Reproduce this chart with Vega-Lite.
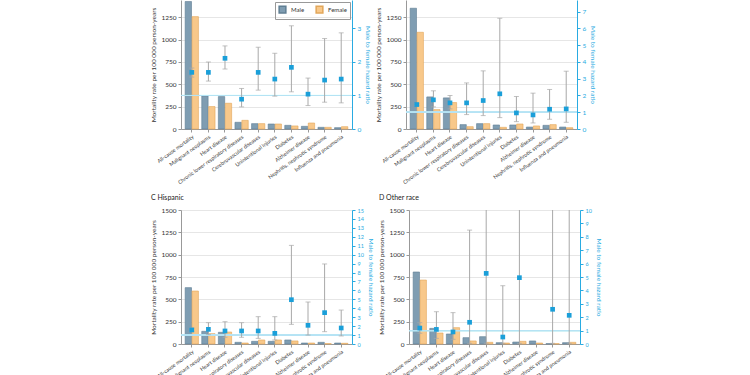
{
  "$schema": "https://vega.github.io/schema/vega-lite/v6.json",
  "background": "white",
  "padding": {"left": 150, "top": 0, "right": 5, "bottom": 0},
  "config": {
    "font": "Lato",
    "view": {"stroke": null},
    "axis": {"titleFontWeight": "normal", "labelFontSize": 6.5, "titleFontSize": 6.5, "labelOverlap": false},
    "axisX": {"title": null, "labelAngle": -36, "labelFontSize": 5.3, "labelColor": "#333", "domainColor": "#999", "tickColor": "#999", "tickSize": 3, "labelPadding": 2},
    "axisRight": {"labelOverlap": false, "grid": false, "domainColor": "#29abe2", "tickColor": "#29abe2", "labelColor": "#29abe2", "titleColor": "#29abe2", "tickSize": 3, "titlePadding": 4},
    "title": {"fontSize": 7, "fontWeight": "normal", "anchor": "start", "frame": "bounds", "color": "#222", "offset": 6}
  },
  "datasets": {
    "rates": [
      {"panel": "A", "cause": "All-cause mortality", "sex": "Male", "rate": 1426},
      {"panel": "A", "cause": "All-cause mortality", "sex": "Female", "rate": 1257},
      {"panel": "A", "cause": "Malignant neoplasms", "sex": "Male", "rate": 370},
      {"panel": "A", "cause": "Malignant neoplasms", "sex": "Female", "rate": 251},
      {"panel": "A", "cause": "Heart disease", "sex": "Male", "rate": 363},
      {"panel": "A", "cause": "Heart disease", "sex": "Female", "rate": 288},
      {"panel": "A", "cause": "Chronic lower respiratory diseases", "sex": "Male", "rate": 75},
      {"panel": "A", "cause": "Chronic lower respiratory diseases", "sex": "Female", "rate": 97},
      {"panel": "A", "cause": "Cerebrovascular diseases", "sex": "Male", "rate": 60},
      {"panel": "A", "cause": "Cerebrovascular diseases", "sex": "Female", "rate": 60},
      {"panel": "A", "cause": "Unintentional injuries", "sex": "Male", "rate": 56},
      {"panel": "A", "cause": "Unintentional injuries", "sex": "Female", "rate": 56},
      {"panel": "A", "cause": "Diabetes", "sex": "Male", "rate": 41},
      {"panel": "A", "cause": "Diabetes", "sex": "Female", "rate": 34},
      {"panel": "A", "cause": "Alzheimer disease", "sex": "Male", "rate": 30},
      {"panel": "A", "cause": "Alzheimer disease", "sex": "Female", "rate": 67},
      {"panel": "A", "cause": "Nephritis, nephrotic syndrome", "sex": "Male", "rate": 19},
      {"panel": "A", "cause": "Nephritis, nephrotic syndrome", "sex": "Female", "rate": 19},
      {"panel": "A", "cause": "Influenza and pneumonia", "sex": "Male", "rate": 15},
      {"panel": "A", "cause": "Influenza and pneumonia", "sex": "Female", "rate": 26},
      {"panel": "B", "cause": "All-cause mortality", "sex": "Male", "rate": 1351},
      {"panel": "B", "cause": "All-cause mortality", "sex": "Female", "rate": 1082},
      {"panel": "B", "cause": "Malignant neoplasms", "sex": "Male", "rate": 359},
      {"panel": "B", "cause": "Malignant neoplasms", "sex": "Female", "rate": 217},
      {"panel": "B", "cause": "Heart disease", "sex": "Male", "rate": 348},
      {"panel": "B", "cause": "Heart disease", "sex": "Female", "rate": 296},
      {"panel": "B", "cause": "Chronic lower respiratory diseases", "sex": "Male", "rate": 49},
      {"panel": "B", "cause": "Chronic lower respiratory diseases", "sex": "Female", "rate": 26},
      {"panel": "B", "cause": "Cerebrovascular diseases", "sex": "Male", "rate": 60},
      {"panel": "B", "cause": "Cerebrovascular diseases", "sex": "Female", "rate": 60},
      {"panel": "B", "cause": "Unintentional injuries", "sex": "Male", "rate": 45},
      {"panel": "B", "cause": "Unintentional injuries", "sex": "Female", "rate": 19},
      {"panel": "B", "cause": "Diabetes", "sex": "Male", "rate": 45},
      {"panel": "B", "cause": "Diabetes", "sex": "Female", "rate": 56},
      {"panel": "B", "cause": "Alzheimer disease", "sex": "Male", "rate": 22},
      {"panel": "B", "cause": "Alzheimer disease", "sex": "Female", "rate": 34},
      {"panel": "B", "cause": "Nephritis, nephrotic syndrome", "sex": "Male", "rate": 41},
      {"panel": "B", "cause": "Nephritis, nephrotic syndrome", "sex": "Female", "rate": 49},
      {"panel": "B", "cause": "Influenza and pneumonia", "sex": "Male", "rate": 22},
      {"panel": "B", "cause": "Influenza and pneumonia", "sex": "Female", "rate": 15},
      {"panel": "C", "cause": "All-cause mortality", "sex": "Male", "rate": 631},
      {"panel": "C", "cause": "All-cause mortality", "sex": "Female", "rate": 593},
      {"panel": "C", "cause": "Malignant neoplasms", "sex": "Male", "rate": 142},
      {"panel": "C", "cause": "Malignant neoplasms", "sex": "Female", "rate": 116},
      {"panel": "C", "cause": "Heart disease", "sex": "Male", "rate": 131},
      {"panel": "C", "cause": "Heart disease", "sex": "Female", "rate": 134},
      {"panel": "C", "cause": "Chronic lower respiratory diseases", "sex": "Male", "rate": 19},
      {"panel": "C", "cause": "Chronic lower respiratory diseases", "sex": "Female", "rate": 11},
      {"panel": "C", "cause": "Cerebrovascular diseases", "sex": "Male", "rate": 30},
      {"panel": "C", "cause": "Cerebrovascular diseases", "sex": "Female", "rate": 45},
      {"panel": "C", "cause": "Unintentional injuries", "sex": "Male", "rate": 30},
      {"panel": "C", "cause": "Unintentional injuries", "sex": "Female", "rate": 45},
      {"panel": "C", "cause": "Diabetes", "sex": "Male", "rate": 45},
      {"panel": "C", "cause": "Diabetes", "sex": "Female", "rate": 34},
      {"panel": "C", "cause": "Alzheimer disease", "sex": "Male", "rate": 11},
      {"panel": "C", "cause": "Alzheimer disease", "sex": "Female", "rate": 11},
      {"panel": "C", "cause": "Nephritis, nephrotic syndrome", "sex": "Male", "rate": 19},
      {"panel": "C", "cause": "Nephritis, nephrotic syndrome", "sex": "Female", "rate": 4},
      {"panel": "C", "cause": "Influenza and pneumonia", "sex": "Male", "rate": 11},
      {"panel": "C", "cause": "Influenza and pneumonia", "sex": "Female", "rate": 8},
      {"panel": "D", "cause": "All-cause mortality", "sex": "Male", "rate": 806},
      {"panel": "D", "cause": "All-cause mortality", "sex": "Female", "rate": 716},
      {"panel": "D", "cause": "Malignant neoplasms", "sex": "Male", "rate": 175},
      {"panel": "D", "cause": "Malignant neoplasms", "sex": "Female", "rate": 123},
      {"panel": "D", "cause": "Heart disease", "sex": "Male", "rate": 112},
      {"panel": "D", "cause": "Heart disease", "sex": "Female", "rate": 183},
      {"panel": "D", "cause": "Chronic lower respiratory diseases", "sex": "Male", "rate": 71},
      {"panel": "D", "cause": "Chronic lower respiratory diseases", "sex": "Female", "rate": 34},
      {"panel": "D", "cause": "Cerebrovascular diseases", "sex": "Male", "rate": 82},
      {"panel": "D", "cause": "Cerebrovascular diseases", "sex": "Female", "rate": 19},
      {"panel": "D", "cause": "Unintentional injuries", "sex": "Male", "rate": 15},
      {"panel": "D", "cause": "Unintentional injuries", "sex": "Female", "rate": 11},
      {"panel": "D", "cause": "Diabetes", "sex": "Male", "rate": 22},
      {"panel": "D", "cause": "Diabetes", "sex": "Female", "rate": 30},
      {"panel": "D", "cause": "Alzheimer disease", "sex": "Male", "rate": 34},
      {"panel": "D", "cause": "Alzheimer disease", "sex": "Female", "rate": 11},
      {"panel": "D", "cause": "Nephritis, nephrotic syndrome", "sex": "Male", "rate": 4},
      {"panel": "D", "cause": "Nephritis, nephrotic syndrome", "sex": "Female", "rate": 4},
      {"panel": "D", "cause": "Influenza and pneumonia", "sex": "Male", "rate": 15},
      {"panel": "D", "cause": "Influenza and pneumonia", "sex": "Female", "rate": 19}
    ],
    "ratios": [
      {"panel": "A", "cause": "All-cause mortality", "ratio": 1.69, "lo": 1.55, "hi": 1.82},
      {"panel": "A", "cause": "Malignant neoplasms", "ratio": 1.69, "lo": 1.43, "hi": 2.0},
      {"panel": "A", "cause": "Heart disease", "ratio": 2.11, "lo": 1.79, "hi": 2.48},
      {"panel": "A", "cause": "Chronic lower respiratory diseases", "ratio": 0.89, "lo": 0.66, "hi": 1.21},
      {"panel": "A", "cause": "Cerebrovascular diseases", "ratio": 1.69, "lo": 1.16, "hi": 2.44},
      {"panel": "A", "cause": "Unintentional injuries", "ratio": 1.49, "lo": 0.98, "hi": 2.26},
      {"panel": "A", "cause": "Diabetes", "ratio": 1.84, "lo": 1.11, "hi": 3.08},
      {"panel": "A", "cause": "Alzheimer disease", "ratio": 1.04, "lo": 0.7, "hi": 1.52},
      {"panel": "A", "cause": "Nephritis, nephrotic syndrome", "ratio": 1.46, "lo": 0.8, "hi": 2.7},
      {"panel": "A", "cause": "Influenza and pneumonia", "ratio": 1.49, "lo": 0.78, "hi": 2.87},
      {"panel": "B", "cause": "All-cause mortality", "ratio": 1.46, "lo": 1.4, "hi": 1.52},
      {"panel": "B", "cause": "Malignant neoplasms", "ratio": 1.74, "lo": 1.32, "hi": 2.28},
      {"panel": "B", "cause": "Heart disease", "ratio": 1.56, "lo": 1.2, "hi": 2.0},
      {"panel": "B", "cause": "Chronic lower respiratory diseases", "ratio": 1.56, "lo": 0.86, "hi": 2.75},
      {"panel": "B", "cause": "Cerebrovascular diseases", "ratio": 1.7, "lo": 0.8, "hi": 3.47},
      {"panel": "B", "cause": "Unintentional injuries", "ratio": 2.1, "lo": 0.68, "hi": 6.61},
      {"panel": "B", "cause": "Diabetes", "ratio": 0.96, "lo": 0.44, "hi": 1.94},
      {"panel": "B", "cause": "Alzheimer disease", "ratio": 0.84, "lo": 0.36, "hi": 2.14},
      {"panel": "B", "cause": "Nephritis, nephrotic syndrome", "ratio": 1.18, "lo": 0.58, "hi": 2.36},
      {"panel": "B", "cause": "Influenza and pneumonia", "ratio": 1.2, "lo": 0.4, "hi": 3.45},
      {"panel": "C", "cause": "All-cause mortality", "ratio": 1.57, "lo": 1.4, "hi": 1.8},
      {"panel": "C", "cause": "Malignant neoplasms", "ratio": 1.64, "lo": 1.05, "hi": 2.39},
      {"panel": "C", "cause": "Heart disease", "ratio": 1.46, "lo": 0.75, "hi": 2.5},
      {"panel": "C", "cause": "Chronic lower respiratory diseases", "ratio": 1.46, "lo": 0.75, "hi": 2.39},
      {"panel": "C", "cause": "Cerebrovascular diseases", "ratio": 1.46, "lo": 0.63, "hi": 3.06},
      {"panel": "C", "cause": "Unintentional injuries", "ratio": 1.19, "lo": 0.45, "hi": 3.06},
      {"panel": "C", "cause": "Diabetes", "ratio": 4.96, "lo": 2.2, "hi": 11.04},
      {"panel": "C", "cause": "Alzheimer disease", "ratio": 2.09, "lo": 1.0, "hi": 4.7},
      {"panel": "C", "cause": "Nephritis, nephrotic syndrome", "ratio": 3.51, "lo": 1.38, "hi": 8.96},
      {"panel": "C", "cause": "Influenza and pneumonia", "ratio": 1.79, "lo": 0.9, "hi": 3.8},
      {"panel": "D", "cause": "All-cause mortality", "ratio": 1.19, "lo": 0.8, "hi": 1.59},
      {"panel": "D", "cause": "Malignant neoplasms", "ratio": 1.09, "lo": 0.42, "hi": 2.41},
      {"panel": "D", "cause": "Heart disease", "ratio": 0.9, "lo": 0.35, "hi": 2.34},
      {"panel": "D", "cause": "Chronic lower respiratory diseases", "ratio": 1.62, "lo": 0.05, "hi": 8.5},
      {"panel": "D", "cause": "Cerebrovascular diseases", "ratio": 5.27, "lo": 0.05, "hi": 30},
      {"panel": "D", "cause": "Unintentional injuries", "ratio": 0.52, "lo": 0.05, "hi": 4.35},
      {"panel": "D", "cause": "Diabetes", "ratio": 4.95, "lo": 0.05, "hi": 30},
      {"panel": "D", "cause": "Nephritis, nephrotic syndrome", "ratio": 2.59, "lo": 0.05, "hi": 30},
      {"panel": "D", "cause": "Influenza and pneumonia", "ratio": 2.14, "lo": 0.05, "hi": 30}
    ]
  },
  "resolve": {"scale": {"fill": "independent", "stroke": "independent"}, "legend": {"fill": "independent", "stroke": "independent"}},
  "spacing": 8,
  "vconcat": [
    {
      "spacing": 4,
      "resolve": {"scale": {"fill": "independent", "stroke": "independent"}, "legend": {"fill": "independent", "stroke": "independent"}},
      "hconcat": [
        {
          "width": 171, "height": 129,
          "resolve": {"scale": {"y": "independent"}},
          "layer": [
            {
              "data": {"name": "rates"},
              "transform": [{"filter": "datum.panel === 'A'"}],
              "mark": {"type": "bar", "strokeWidth": 0.6},
              "encoding": {
                "x": {"field": "cause", "type": "nominal", "scale": {"domain": ["All-cause mortality","Malignant neoplasms","Heart disease","Chronic lower respiratory diseases","Cerebrovascular diseases","Unintentional injuries","Diabetes","Alzheimer disease","Nephritis, nephrotic syndrome","Influenza and pneumonia"], "paddingInner": 0.2, "paddingOuter": 0.25}, "title": null},
                "xOffset": {"field": "sex", "type": "nominal", "scale": {"domain": ["Male","Female"], "paddingInner": 0.08}},
                "y": {"field": "rate", "type": "quantitative", "scale": {"domain": [0, 1443], "nice": false}, "axis": {"title": "Mortality rate per 100 000 person-years", "format": "d", "values": [0,250,500,750,1000,1250], "grid": true, "gridColor": "#e6e6e6", "domainColor": "#999", "tickColor": "#999", "tickSize": 3, "labelColor": "#333", "titleColor": "#333", "titlePadding": 4}},
                "fill": {"field": "sex", "type": "nominal", "scale": {"domain": ["Male","Female"], "range": ["#7f9db2","#f8c88a"]}, "legend": {"orient": "top-right", "direction": "horizontal", "title": null, "symbolType": "square", "symbolSize": 45, "labelFontSize": 6, "strokeColor": "#999", "padding": 3, "offset": 2, "columnPadding": 8, "labelColor": "#333"}},
                "stroke": {"field": "sex", "type": "nominal", "scale": {"domain": ["Male","Female"], "range": ["#5f7e93","#e2a659"]}, "legend": null}
              }
            },
            {
              "data": {"name": "ratios"},
              "transform": [{"filter": "datum.panel === 'A'"}],
              "layer": [
                {"mark": {"type": "rule", "color": "#b5e3f4", "strokeWidth": 1}, "encoding": {"y": {"datum": 1, "type": "quantitative", "scale": {"domain": [0, 3.85], "nice": false}, "axis": {"orient": "right", "title": "Male to female hazard ratio", "values": [0,1,2,3], "labelOverlap": false}}}},
                {"mark": {"type": "rule", "color": "#a8a8a8", "clip": true}, "encoding": {"x": {"field": "cause", "type": "nominal", "title": null}, "y": {"field": "lo", "type": "quantitative", "axis": {"orient": "right", "title": "Male to female hazard ratio", "values": [0,1,2,3], "labelOverlap": false}}, "y2": {"field": "hi"}}},
                {"mark": {"type": "tick", "color": "#a8a8a8", "size": 5, "thickness": 1, "clip": true}, "encoding": {"x": {"field": "cause", "type": "nominal", "title": null}, "y": {"field": "lo", "type": "quantitative", "axis": {"orient": "right", "title": "Male to female hazard ratio", "values": [0,1,2,3], "labelOverlap": false}}}},
                {"mark": {"type": "tick", "color": "#a8a8a8", "size": 5, "thickness": 1, "clip": true}, "encoding": {"x": {"field": "cause", "type": "nominal", "title": null}, "y": {"field": "hi", "type": "quantitative", "axis": {"orient": "right", "title": "Male to female hazard ratio", "values": [0,1,2,3], "labelOverlap": false}}}},
                {"mark": {"type": "square", "color": "#1a9fd9", "size": 22, "opacity": 1}, "encoding": {"x": {"field": "cause", "type": "nominal", "title": null}, "y": {"field": "ratio", "type": "quantitative", "axis": {"orient": "right", "title": "Male to female hazard ratio", "values": [0,1,2,3], "labelOverlap": false}}}}
              ]
            }
          ]
        },
        {
          "width": 171, "height": 129,
          "resolve": {"scale": {"y": "independent"}},
          "layer": [
            {
              "data": {"name": "rates"},
              "transform": [{"filter": "datum.panel === 'B'"}],
              "mark": {"type": "bar", "strokeWidth": 0.6},
              "encoding": {
                "x": {"field": "cause", "type": "nominal", "scale": {"domain": ["All-cause mortality","Malignant neoplasms","Heart disease","Chronic lower respiratory diseases","Cerebrovascular diseases","Unintentional injuries","Diabetes","Alzheimer disease","Nephritis, nephrotic syndrome","Influenza and pneumonia"], "paddingInner": 0.2, "paddingOuter": 0.25}, "title": null},
                "xOffset": {"field": "sex", "type": "nominal", "scale": {"domain": ["Male","Female"], "paddingInner": 0.08}},
                "y": {"field": "rate", "type": "quantitative", "scale": {"domain": [0, 1443], "nice": false}, "axis": {"title": "Mortality rate per 100 000 person-years", "format": "d", "values": [0,250,500,750,1000,1250], "grid": true, "gridColor": "#e6e6e6", "domainColor": "#999", "tickColor": "#999", "tickSize": 3, "labelColor": "#333", "titleColor": "#333", "titlePadding": 4}},
                "fill": {"field": "sex", "type": "nominal", "scale": {"domain": ["Male","Female"], "range": ["#7f9db2","#f8c88a"]}, "legend": null},
                "stroke": {"field": "sex", "type": "nominal", "scale": {"domain": ["Male","Female"], "range": ["#5f7e93","#e2a659"]}, "legend": null}
              }
            },
            {
              "data": {"name": "ratios"},
              "transform": [{"filter": "datum.panel === 'B'"}],
              "layer": [
                {"mark": {"type": "rule", "color": "#b5e3f4", "strokeWidth": 1}, "encoding": {"y": {"datum": 1, "type": "quantitative", "scale": {"domain": [0, 7.7], "nice": false}, "axis": {"orient": "right", "title": "Male to female hazard ratio", "values": [0,1,2,3,4,5,6,7], "labelOverlap": false}}}},
                {"mark": {"type": "rule", "color": "#a8a8a8", "clip": true}, "encoding": {"x": {"field": "cause", "type": "nominal", "title": null}, "y": {"field": "lo", "type": "quantitative", "axis": {"orient": "right", "title": "Male to female hazard ratio", "values": [0,1,2,3,4,5,6,7], "labelOverlap": false}}, "y2": {"field": "hi"}}},
                {"mark": {"type": "tick", "color": "#a8a8a8", "size": 5, "thickness": 1, "clip": true}, "encoding": {"x": {"field": "cause", "type": "nominal", "title": null}, "y": {"field": "lo", "type": "quantitative", "axis": {"orient": "right", "title": "Male to female hazard ratio", "values": [0,1,2,3,4,5,6,7], "labelOverlap": false}}}},
                {"mark": {"type": "tick", "color": "#a8a8a8", "size": 5, "thickness": 1, "clip": true}, "encoding": {"x": {"field": "cause", "type": "nominal", "title": null}, "y": {"field": "hi", "type": "quantitative", "axis": {"orient": "right", "title": "Male to female hazard ratio", "values": [0,1,2,3,4,5,6,7], "labelOverlap": false}}}},
                {"mark": {"type": "square", "color": "#1a9fd9", "size": 22, "opacity": 1}, "encoding": {"x": {"field": "cause", "type": "nominal", "title": null}, "y": {"field": "ratio", "type": "quantitative", "axis": {"orient": "right", "title": "Male to female hazard ratio", "values": [0,1,2,3,4,5,6,7], "labelOverlap": false}}}}
              ]
            }
          ]
        }
      ]
    },
    {
      "spacing": 4,
      "resolve": {"scale": {"fill": "independent", "stroke": "independent"}, "legend": {"fill": "independent", "stroke": "independent"}},
      "hconcat": [
        {
          "width": 171, "height": 134,
          "title": {"text": "C  Hispanic"},
          "resolve": {"scale": {"y": "independent"}},
          "layer": [
            {
              "data": {"name": "rates"},
              "transform": [{"filter": "datum.panel === 'C'"}],
              "mark": {"type": "bar", "strokeWidth": 0.6},
              "encoding": {
                "x": {"field": "cause", "type": "nominal", "scale": {"domain": ["All-cause mortality","Malignant neoplasms","Heart disease","Chronic lower respiratory diseases","Cerebrovascular diseases","Unintentional injuries","Diabetes","Alzheimer disease","Nephritis, nephrotic syndrome","Influenza and pneumonia"], "paddingInner": 0.2, "paddingOuter": 0.25}, "title": null},
                "xOffset": {"field": "sex", "type": "nominal", "scale": {"domain": ["Male","Female"], "paddingInner": 0.08}},
                "y": {"field": "rate", "type": "quantitative", "scale": {"domain": [0, 1500], "nice": false}, "axis": {"title": "Mortality rate per 100 000 person-years", "format": "d", "values": [0,250,500,750,1000,1250,1500], "grid": true, "gridColor": "#e6e6e6", "domainColor": "#999", "tickColor": "#999", "tickSize": 3, "labelColor": "#333", "titleColor": "#333", "titlePadding": 4}},
                "fill": {"field": "sex", "type": "nominal", "scale": {"domain": ["Male","Female"], "range": ["#7f9db2","#f8c88a"]}, "legend": null},
                "stroke": {"field": "sex", "type": "nominal", "scale": {"domain": ["Male","Female"], "range": ["#5f7e93","#e2a659"]}, "legend": null}
              }
            },
            {
              "data": {"name": "ratios"},
              "transform": [{"filter": "datum.panel === 'C'"}],
              "layer": [
                {"mark": {"type": "rule", "color": "#b5e3f4", "strokeWidth": 1}, "encoding": {"y": {"datum": 1, "type": "quantitative", "scale": {"domain": [0, 15], "nice": false}, "axis": {"orient": "right", "title": "Male to female hazard ratio", "values": [0,1,2,3,4,5,6,7,8,9,10,11,12,13,14,15], "labelOverlap": false, "labelFontSize": 5.5}}}},
                {"mark": {"type": "rule", "color": "#a8a8a8", "clip": true}, "encoding": {"x": {"field": "cause", "type": "nominal", "title": null}, "y": {"field": "lo", "type": "quantitative", "axis": {"orient": "right", "title": "Male to female hazard ratio", "values": [0,1,2,3,4,5,6,7,8,9,10,11,12,13,14,15], "labelOverlap": false, "labelFontSize": 5.5}}, "y2": {"field": "hi"}}},
                {"mark": {"type": "tick", "color": "#a8a8a8", "size": 5, "thickness": 1, "clip": true}, "encoding": {"x": {"field": "cause", "type": "nominal", "title": null}, "y": {"field": "lo", "type": "quantitative", "axis": {"orient": "right", "title": "Male to female hazard ratio", "values": [0,1,2,3,4,5,6,7,8,9,10,11,12,13,14,15], "labelOverlap": false, "labelFontSize": 5.5}}}},
                {"mark": {"type": "tick", "color": "#a8a8a8", "size": 5, "thickness": 1, "clip": true}, "encoding": {"x": {"field": "cause", "type": "nominal", "title": null}, "y": {"field": "hi", "type": "quantitative", "axis": {"orient": "right", "title": "Male to female hazard ratio", "values": [0,1,2,3,4,5,6,7,8,9,10,11,12,13,14,15], "labelOverlap": false, "labelFontSize": 5.5}}}},
                {"mark": {"type": "square", "color": "#1a9fd9", "size": 22, "opacity": 1}, "encoding": {"x": {"field": "cause", "type": "nominal", "title": null}, "y": {"field": "ratio", "type": "quantitative", "axis": {"orient": "right", "title": "Male to female hazard ratio", "values": [0,1,2,3,4,5,6,7,8,9,10,11,12,13,14,15], "labelOverlap": false, "labelFontSize": 5.5}}}}
              ]
            }
          ]
        },
        {
          "width": 171, "height": 134,
          "title": {"text": "D  Other race"},
          "resolve": {"scale": {"y": "independent"}},
          "layer": [
            {
              "data": {"name": "rates"},
              "transform": [{"filter": "datum.panel === 'D'"}],
              "mark": {"type": "bar", "strokeWidth": 0.6},
              "encoding": {
                "x": {"field": "cause", "type": "nominal", "scale": {"domain": ["All-cause mortality","Malignant neoplasms","Heart disease","Chronic lower respiratory diseases","Cerebrovascular diseases","Unintentional injuries","Diabetes","Alzheimer disease","Nephritis, nephrotic syndrome","Influenza and pneumonia"], "paddingInner": 0.2, "paddingOuter": 0.25}, "title": null},
                "xOffset": {"field": "sex", "type": "nominal", "scale": {"domain": ["Male","Female"], "paddingInner": 0.08}},
                "y": {"field": "rate", "type": "quantitative", "scale": {"domain": [0, 1500], "nice": false}, "axis": {"title": "Mortality rate per 100 000 person-years", "format": "d", "values": [0,250,500,750,1000,1250,1500], "grid": true, "gridColor": "#e6e6e6", "domainColor": "#999", "tickColor": "#999", "tickSize": 3, "labelColor": "#333", "titleColor": "#333", "titlePadding": 4}},
                "fill": {"field": "sex", "type": "nominal", "scale": {"domain": ["Male","Female"], "range": ["#7f9db2","#f8c88a"]}, "legend": null},
                "stroke": {"field": "sex", "type": "nominal", "scale": {"domain": ["Male","Female"], "range": ["#5f7e93","#e2a659"]}, "legend": null}
              }
            },
            {
              "data": {"name": "ratios"},
              "transform": [{"filter": "datum.panel === 'D'"}],
              "layer": [
                {"mark": {"type": "rule", "color": "#b5e3f4", "strokeWidth": 1}, "encoding": {"y": {"datum": 1, "type": "quantitative", "scale": {"domain": [0, 10], "nice": false}, "axis": {"orient": "right", "title": "Male to female hazard ratio", "values": [0,1,2,3,4,5,6,7,8,9,10], "labelOverlap": false, "labelFontSize": 5.5}}}},
                {"mark": {"type": "rule", "color": "#a8a8a8", "clip": true}, "encoding": {"x": {"field": "cause", "type": "nominal", "title": null}, "y": {"field": "lo", "type": "quantitative", "axis": {"orient": "right", "title": "Male to female hazard ratio", "values": [0,1,2,3,4,5,6,7,8,9,10], "labelOverlap": false, "labelFontSize": 5.5}}, "y2": {"field": "hi"}}},
                {"mark": {"type": "tick", "color": "#a8a8a8", "size": 5, "thickness": 1, "clip": true}, "encoding": {"x": {"field": "cause", "type": "nominal", "title": null}, "y": {"field": "lo", "type": "quantitative", "axis": {"orient": "right", "title": "Male to female hazard ratio", "values": [0,1,2,3,4,5,6,7,8,9,10], "labelOverlap": false, "labelFontSize": 5.5}}}},
                {"mark": {"type": "tick", "color": "#a8a8a8", "size": 5, "thickness": 1, "clip": true}, "encoding": {"x": {"field": "cause", "type": "nominal", "title": null}, "y": {"field": "hi", "type": "quantitative", "axis": {"orient": "right", "title": "Male to female hazard ratio", "values": [0,1,2,3,4,5,6,7,8,9,10], "labelOverlap": false, "labelFontSize": 5.5}}}},
                {"mark": {"type": "square", "color": "#1a9fd9", "size": 22, "opacity": 1}, "encoding": {"x": {"field": "cause", "type": "nominal", "title": null}, "y": {"field": "ratio", "type": "quantitative", "axis": {"orient": "right", "title": "Male to female hazard ratio", "values": [0,1,2,3,4,5,6,7,8,9,10], "labelOverlap": false, "labelFontSize": 5.5}}}}
              ]
            }
          ]
        }
      ]
    }
  ]
}
